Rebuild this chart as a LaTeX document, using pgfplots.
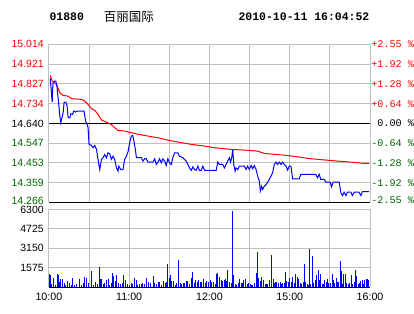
\documentclass[border=0pt]{standalone}
\usepackage{pgfplots}
\pgfplotsset{compat=1.18}
\usepackage{fontspec}
\setmainfont{Liberation Sans}
\newfontfamily\monof{Liberation Mono}
\newfontfamily\cjk{Noto Sans CJK SC}
\definecolor{gridgray}{RGB}{192,192,192}
\definecolor{dgreen}{RGB}{0,100,0}
\definecolor{pblue}{RGB}{0,0,255}
\definecolor{pred}{RGB}{255,0,0}
\begin{document}
\begin{tikzpicture}
\path[draw=none,fill=none] (0pt,0pt) rectangle (414pt,314pt);
\node[anchor=west,inner sep=0pt,font=\monof\bfseries\fontsize{11.5}{12}\selectfont] at (49.5pt,297pt) {01880};
\node[anchor=west,inner sep=0pt,font=\cjk\fontsize{12.5}{13}\selectfont] at (104pt,297pt) {百丽国际};
\node[anchor=east,inner sep=0pt,font=\monof\bfseries\fontsize{11.5}{12}\selectfont] at (370.5pt,297pt) {2010-10-11 16:04:52};
% price panel
\begin{axis}[at={(49pt,111pt)}, anchor=south west, width=322pt, height=158.5pt, scale only axis,
  xmin=0, xmax=240, ymin=14.266, ymax=15.014,
  axis line style={draw=none}, tick style={draw=none}, major tick length=0pt,
  xtick={0,30,...,240}, xticklabels={},
  ytick={14.266,14.3595,14.453,14.5465,14.640,14.7335,14.827,14.9205,15.014},
  yticklabels={\raisebox{4pt}{\textcolor{dgreen}{14.266}},\textcolor{dgreen}{14.359},\textcolor{dgreen}{14.453},\textcolor{dgreen}{14.547},\textcolor{black}{14.640},\textcolor{pred}{14.734},\textcolor{pred}{14.827},\textcolor{pred}{14.921},\raisebox{-3pt}{\textcolor{pred}{15.014}}},
  yticklabel style={anchor=east, inner sep=0pt, xshift=-5pt, font=\fontsize{10.5}{12}\selectfont},
  grid=major, grid style={gridgray, line width=1pt},
  extra y ticks={14.266,14.640}, extra y tick labels={},
  extra y tick style={grid style={black, line width=1pt}}]
\addplot[pred, line width=1pt] coordinates {
(1.0,14.867)(2.5,14.840)(5.7,14.825)(8.2,14.785)(10.7,14.773)(14.4,14.769)(16.9,14.757)(24.4,14.754)(26.8,14.746)(29.3,14.730)(31.8,14.710)(34.3,14.702)(36.7,14.683)(39.3,14.656)(43.0,14.646)(46.7,14.635)(49.2,14.620)(51.7,14.607)(56.6,14.604)(63.6,14.593)(71.6,14.583)(81.5,14.572)(88.9,14.561)(96.4,14.552)(106.4,14.541)(116.3,14.533)(123.7,14.525)(128.7,14.522)(136.2,14.517)(146.1,14.514)(156.0,14.509)(161.0,14.498)(175.9,14.490)(185.8,14.482)(195.8,14.473)(208.2,14.466)(215.6,14.462)(225.6,14.457)(235.5,14.451)(239.3,14.451)
};
\addplot[pblue, line width=1pt] coordinates {
(1.0,14.853)(2.5,14.741)(3.0,14.829)(4.2,14.840)(5.2,14.840)(6.0,14.817)(7.5,14.722)(8.2,14.675)(8.9,14.643)(10.7,14.692)(11.4,14.741)(12.7,14.741)(13.6,14.722)(14.4,14.667)(15.7,14.667)(16.4,14.686)(17.7,14.683)(18.6,14.698)(19.9,14.694)(21.1,14.698)(26.3,14.698)(27.4,14.651)(28.6,14.635)(29.3,14.620)(30.0,14.541)(31.8,14.536)(33.0,14.525)(34.3,14.536)(35.6,14.517)(36.7,14.470)(38.0,14.422)(39.3,14.470)(40.5,14.478)(41.7,14.493)(43.0,14.478)(44.2,14.501)(45.4,14.497)(46.7,14.470)(47.9,14.485)(49.2,14.470)(50.5,14.430)(51.7,14.414)(52.2,14.438)(53.7,14.422)(55.4,14.422)(56.6,14.470)(57.9,14.485)(59.1,14.505)(60.4,14.549)(61.6,14.580)(62.6,14.583)(63.6,14.556)(64.8,14.509)(65.4,14.478)(69.1,14.478)(70.3,14.462)(71.6,14.473)(72.8,14.473)(74.0,14.457)(77.7,14.457)(79.0,14.473)(80.3,14.446)(81.5,14.457)(82.7,14.473)(84.0,14.454)(85.2,14.473)(86.5,14.462)(87.7,14.441)(88.9,14.473)(90.2,14.454)(91.5,14.446)(92.6,14.478)(93.9,14.501)(96.4,14.501)(97.6,14.485)(100.1,14.478)(101.4,14.470)(102.6,14.462)(103.8,14.446)(105.1,14.430)(106.4,14.418)(107.6,14.435)(108.8,14.422)(110.1,14.418)(111.3,14.438)(112.5,14.418)(113.8,14.418)(115.0,14.438)(116.3,14.418)(125.0,14.418)(126.2,14.457)(127.5,14.446)(129.9,14.446)(131.2,14.430)(132.4,14.446)(133.6,14.462)(134.9,14.478)(135.7,14.457)(136.6,14.478)(137.4,14.517)(138.1,14.446)(139.2,14.414)(139.9,14.430)(141.1,14.422)(142.4,14.438)(146.1,14.438)(147.4,14.422)(148.5,14.438)(149.8,14.422)(151.1,14.441)(152.3,14.426)(153.5,14.441)(154.8,14.422)(156.0,14.391)(157.3,14.367)(158.0,14.320)(159.0,14.343)(159.7,14.328)(161.0,14.343)(162.3,14.351)(163.5,14.362)(164.7,14.375)(166.0,14.391)(167.2,14.407)(168.4,14.446)(169.7,14.457)(170.9,14.446)(172.2,14.457)(173.4,14.446)(174.6,14.457)(175.9,14.446)(177.2,14.438)(178.4,14.419)(179.6,14.438)(180.9,14.438)(182.1,14.378)(187.1,14.378)(188.3,14.399)(199.5,14.399)(200.7,14.383)(202.0,14.399)(203.2,14.375)(205.7,14.375)(207.0,14.362)(210.2,14.362)(211.2,14.340)(212.4,14.362)(216.9,14.362)(218.2,14.312)(219.4,14.299)(220.6,14.315)(221.9,14.299)(223.1,14.315)(225.6,14.315)(226.8,14.299)(228.1,14.315)(231.8,14.315)(233.1,14.299)(234.3,14.318)(239.3,14.318)
};
\end{axis}
% right percentage labels
\begin{axis}[at={(49pt,111pt)}, anchor=south west, width=322pt, height=158.5pt, scale only axis,
  xmin=0, xmax=240, ymin=14.266, ymax=15.014,
  axis line style={draw=none}, tick style={draw=none}, major tick length=0pt,
  xtick=\empty, yticklabel pos=right,
  ytick={14.266,14.3595,14.453,14.5465,14.640,14.7335,14.827,14.9205,15.014},
  yticklabels={\raisebox{4pt}{\textcolor{dgreen}{-2.55 \%}},\textcolor{dgreen}{-1.92 \%},\textcolor{dgreen}{-1.28 \%},\textcolor{dgreen}{-0.64 \%},\textcolor{black}{\hphantom{+}0.00 \%},\textcolor{pred}{+0.64 \%},\textcolor{pred}{+1.28 \%},\textcolor{pred}{+1.92 \%},\raisebox{-3pt}{\textcolor{pred}{+2.55 \%}}},
  yticklabel style={anchor=west, inner sep=0pt, xshift=1pt, font=\monof\fontsize{10.2}{12}\selectfont}]
\addplot[draw=none] coordinates {(0,14.640)};
\end{axis}
% volume panel
\begin{axis}[at={(49pt,26pt)}, anchor=south west, width=322pt, height=78pt, scale only axis,
  xmin=0, xmax=240, ymin=0, ymax=6300,
  axis line style={draw=none}, tick style={draw=none}, major tick length=0pt,
  xtick={0,30,...,240}, xticklabels={10:00,,11:00,,12:00,,15:00,,16:00},
  xticklabel style={anchor=north, inner sep=0pt, yshift=-6pt, font=\fontsize{10.7}{12}\selectfont},
  ytick={1575,3150,4725,6300}, yticklabels={1575,3150,4725,\raisebox{-2.5pt}{6300}},
  yticklabel style={anchor=east, inner sep=0pt, xshift=-5pt, font=\fontsize{10.5}{12}\selectfont},
  grid=major, grid style={gridgray, line width=1pt},
  extra y ticks={0}, extra y tick labels={},
  extra y tick style={grid style={black, line width=1pt}}]
\addplot[ycomb, pblue, line width=1pt, mark=none] coordinates {
(0.75,1100)(1.5,1020)(2.2,280)(3.2,770)(4.7,190)(6.2,1100)(7.2,970)(8.2,410)(8.9,635)(10.4,690)(11.4,330)(12.7,190)(14.2,470)(15.2,330)(16.6,190)(17.9,770)(19.4,190)(20.9,250)(23.1,690)(24.1,190)(25.6,360)(26.8,830)(28.1,770)(29.3,360)(32.0,1350)(33.3,190)(34.8,410)(36.0,280)(37.5,1660)(38.5,635)(39.3,690)(40.5,280)(41.7,330)(43.2,610)(44.2,690)(45.5,190)(46.7,330)(47.5,1190)(48.4,880)(49.7,500)(50.9,970)(52.2,330)(53.7,280)(54.9,330)(56.1,970)(57.1,550)(58.6,280)(59.9,190)(61.4,330)(62.4,280)(64.1,770)(65.1,550)(66.3,190)(67.8,280)(69.1,280)(70.3,330)(71.6,280)(73.3,745)(74.5,410)(76.0,330)(77.8,940)(79.0,330)(80.2,280)(82.0,410)(83.0,410)(84.5,190)(86.0,470)(87.0,330)(87.9,410)(88.9,1850)(89.9,745)(90.9,1020)(91.9,525)(93.2,525)(94.4,190)(95.7,360)(97.1,2180)(98.1,330)(99.1,280)(100.4,360)(101.4,360)(102.9,470)(103.9,525)(105.1,280)(106.6,770)(107.6,1240)(108.8,330)(109.8,610)(110.8,410)(112.0,610)(113.0,410)(114.3,410)(115.5,690)(116.8,330)(118.0,470)(119.3,410)
(120.7,590)(121.7,430)(123.0,430)(124.5,270)(125.5,1070)(126.2,1150)(127.5,830)(128.7,590)(129.9,480)(131.2,590)(131.9,670)(132.9,530)(133.7,1390)(134.9,430)(136.1,320)(137.4,6140)(138.1,990)(139.4,270)(140.4,210)(141.6,320)(142.6,670)(143.6,370)(144.6,370)(145.6,590)(146.8,670)(148.1,270)(149.1,320)(150.3,270)(151.6,210)(152.5,210)(154.0,320)(155.0,1170)(156.0,2880)(157.0,750)(158.0,530)(159.0,830)(160.2,590)(161.5,270)(162.5,270)(163.5,270)(165.0,590)(166.5,2590)(167.5,670)(168.4,320)(169.4,430)(170.4,430)(171.7,320)(172.7,430)(173.9,270)(174.9,320)(175.9,320)(176.9,1230)(177.9,530)(178.9,430)(179.9,750)(181.1,430)(182.1,830)(183.4,320)(184.3,1070)(185.6,830)(186.8,670)(187.8,320)(189.1,270)(190.3,430)(191.1,1870)(192.0,430)(193.3,270)(194.3,210)(194.8,3070)(195.8,270)(197.0,2510)(198.0,320)(199.3,590)(200.2,1010)(201.2,1390)(202.2,590)(203.2,1070)(204.2,270)(205.2,270)(206.2,590)(207.2,430)(208.2,670)(209.2,320)(210.2,370)(211.7,1070)(212.7,590)(213.7,370)(214.7,750)(215.7,430)(216.6,430)(217.6,2110)(218.4,1280)(219.6,270)(220.4,1070)(221.6,1070)(222.6,320)(223.6,270)(224.6,370)(225.8,990)(227.1,270)(228.1,430)(229.3,1390)(230.1,910)(231.1,270)(232.0,320)(233.1,530)(234.1,590)(235.0,270)(236.0,590)(237.0,670)(238.0,670)(239.0,590)
};
\end{axis}
\end{tikzpicture}
\end{document}
